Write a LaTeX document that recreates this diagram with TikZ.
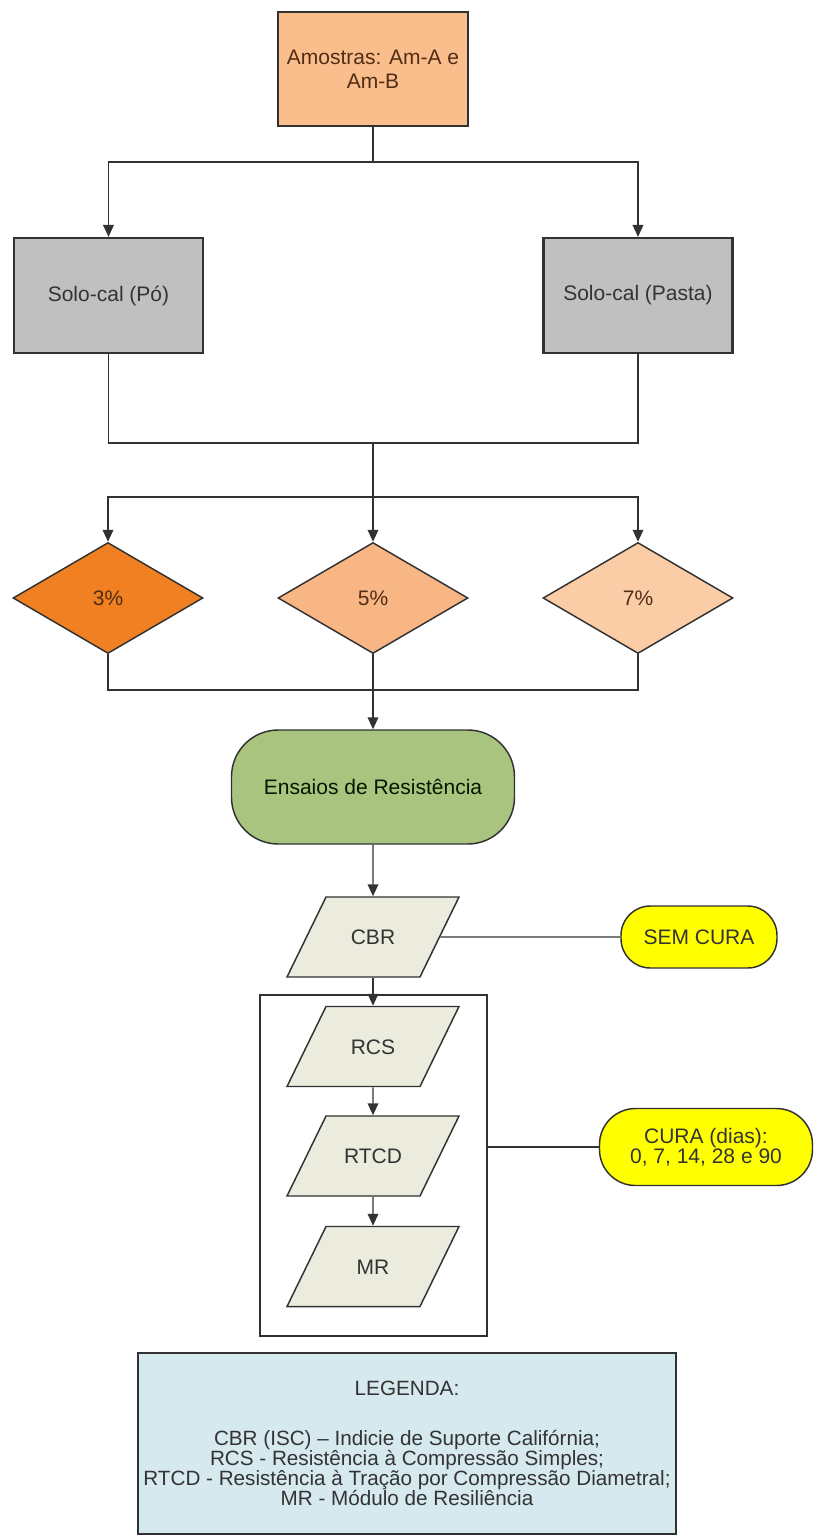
\documentclass[tikz,border=0pt]{standalone}
\usepackage{fontspec}
\setmainfont{Liberation Sans}
\usepackage{xcolor}
\usetikzlibrary{shapes.geometric,arrows.meta}

\definecolor{laranjaAmostra}{RGB}{250,189,140}
\definecolor{cinzaSolo}{RGB}{192,192,192}
\definecolor{laranjaTres}{RGB}{240,128,34}
\definecolor{laranjaCinco}{RGB}{248,182,132}
\definecolor{laranjaSete}{RGB}{251,205,167}
\definecolor{verdeEnsaio}{RGB}{169,196,126}
\definecolor{begeDado}{RGB}{235,236,221}
\definecolor{amareloCura}{RGB}{255,255,0}
\definecolor{azulLegenda}{RGB}{213,233,239}
\definecolor{corLinha}{RGB}{50,50,50}
\definecolor{textoMarrom}{RGB}{80,45,20}

\tikzset{
  texto/.style={font=\fontsize{15.75}{18}\selectfont, text=black!80},
  caixa/.style={texto, draw=corLinha, line width=1.1pt, inner sep=0pt, align=center},
  solo/.style={caixa, fill=cinzaSolo, line width=1.6pt, minimum width=141.75pt, minimum height=86.25pt},
  losango/.style={caixa, diamond, text=textoMarrom, minimum width=142.5pt, minimum height=83.25pt},
  dado/.style={caixa, trapezium, trapezium left angle=64, trapezium right angle=116,
    trapezium stretches body, fill=begeDado, text height=11.3pt, text depth=0pt,
    inner xsep=0pt, inner ysep=24.35pt, minimum width=129pt},
  cura/.style={caixa, fill=amareloCura},
  liga/.style={draw=corLinha, line width=1.1pt},
  seta/.style={liga, -{Triangle[length=9pt,width=8pt]}},
}

\begin{document}
\begin{tikzpicture}[x=0.75pt,y=0.75pt,yscale=-1,xscale=1]
\useasboundingbox (0,0) rectangle (817,1539);

%Shape: Rectangle
\node[caixa, fill=laranjaAmostra, text=textoMarrom, minimum width=142.5pt, minimum height=85.5pt] (amostras) at (373,69) {Amostras: Am-A e\\Am-B};
%Shape: Rectangle
\node[solo] (po) at (108.5,295.5) {Solo-cal (Pó)};
\node[solo] (pasta) at (638,295.5) {Solo-cal (Pasta)};
%Shape: Diamond
\node[losango, fill=laranjaTres] (p3) at (108,598) {3\%};
\node[losango, fill=laranjaCinco] (p5) at (373,598) {5\%};
\node[losango, fill=laranjaSete] (p7) at (638,598) {7\%};
%Shape: Rounded Rectangle
\node[caixa, fill=verdeEnsaio, text=black!75!green!40!black, rounded corners=35pt, minimum width=212.25pt, minimum height=85.5pt] (ensaios) at (373,787) {Ensaios de Resistência};
%Shape: Rectangle
\node[draw=corLinha, line width=1.1pt, minimum width=170.25pt, minimum height=255.75pt] (grupo) at (373.5,1165.5) {};
%Shape: Parallelogram
\node[dado] (cbr) at (373,937) {CBR};
\node[dado] (rcs) at (373,1046.5) {RCS};
\node[dado] (rtcd) at (373,1156) {RTCD};
\node[dado] (mr) at (373,1266.5) {MR};
%Shape: Rounded Rectangle
\node[cura, rounded corners=22pt, minimum width=117pt, minimum height=46.5pt] (semcura) at (699,937) {SEM CURA};
\node[cura, rounded corners=27pt, minimum width=159.75pt, minimum height=57.75pt, font=\fontsize{15.75}{14}\selectfont] (curadias) at (706,1147) {CURA (dias):\\0, 7, 14, 28 e 90};
%Shape: Rectangle
\node[caixa, fill=azulLegenda, line width=1.3pt, minimum width=403.5pt, minimum height=135.75pt, font=\fontsize{15.5}{15}\selectfont] (legenda) at (407,1443.5)
  {LEGENDA:\\[22.5pt]CBR (ISC) – Indicie de Suporte Califórnia;\\RCS - Resistência à Compressão Simples;\\RTCD - Resistência à Tração por Compressão Diametral;\\MR - Módulo de Resiliência};

% Junctions
\coordinate (j1) at (373,162);
\coordinate (j2) at (373,443);
\coordinate (j3) at (373,497);
\coordinate (j4) at (373,690);

%Straight Lines
\draw[liga] (amostras.south) -- (j1);
\draw[seta] (j1) -| (po.north);
\draw[seta] (j1) -| (pasta.north);
\draw[liga] (po.south) |- (j2) -| (pasta.south);
\draw[seta] (j2) -- (p5.north);
\draw[seta] (j3) -| (p3.north);
\draw[seta] (j3) -| (p7.north);
\draw[liga] (p3.south) |- (j4) -| (p7.south);
\draw[liga] (p5.south) -- (j4);
\draw[seta] (j4) -- (ensaios.north);
\draw[seta] (ensaios.south) -- (cbr.north);
\draw[seta] (cbr.south) -- (rcs.north);
\draw[seta] (rcs.south) -- (rtcd.north);
\draw[seta] (rtcd.south) -- (mr.north);
\draw[liga] (cbr.east) -- (semcura.west);
\draw[liga] (curadias.west -| grupo.east) -- (curadias.west);

\end{tikzpicture}
\end{document}
